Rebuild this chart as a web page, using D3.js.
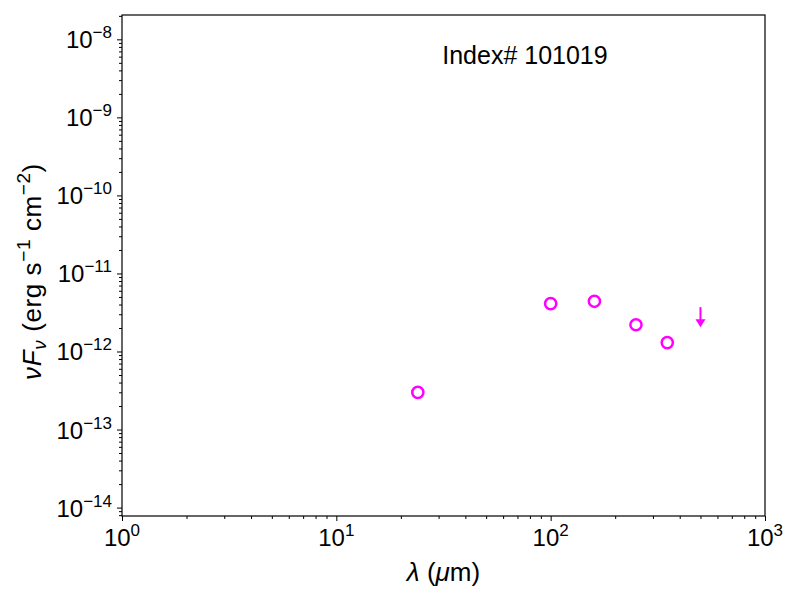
<!DOCTYPE html>
<html>
<head>
<meta charset="utf-8">
<script src="https://cdn.jsdelivr.net/npm/d3@7"></script>
<style>
  body { margin: 0; background: #fff; }
  text { font-family: "Liberation Sans", Arial, sans-serif; }
</style>
</head>
<body>
<div id="sed"></div>
<script>
// photometry points (wavelength in micron, nuFnu in erg s^-1 cm^-2)
const wavelengths = [24, 100, 160, 250, 350];
const fluxes = [3.0e-13, 4.1e-12, 4.4e-12, 2.2e-12, 1.3e-12];
// upper limits
const limitWavelengths = [500];
const limitFluxes = [3.7e-12];

const xLim = [1, 1000];
const yLim = [7.8e-15, 2.05e-8];
const xMajor = [0, 1, 2, 3];
const yMajor = [-14, -13, -12, -11, -10, -9, -8];
const title = "Index# 101019";

const margin = {top: 15, right: 35, bottom: 84, left: 122},
width = 800 - margin.left - margin.right,
height = 600 - margin.top - margin.bottom;

const svg = d3.select("#sed")
.append("svg")
.attr("width", 800)
.attr("height", 600)
.append("g")
.attr("transform", `translate(${margin.left}, ${margin.top})`);

const x = d3.scaleLog().domain(xLim).range([0, width]);
const y = d3.scaleLog().domain(yLim).range([height, 0]);

// minor ticks 2..9 of each decade, kept inside the limits
function minorTicks(lo, hi) {
  const out = [];
  for (let e = Math.floor(Math.log10(lo)); e <= Math.ceil(Math.log10(hi)); e++) {
    for (let m = 2; m <= 9; m++) {
      const v = m * Math.pow(10, e);
      if (v >= lo && v <= hi) out.push(v);
    }
  }
  return out;
}

const sup = n => String(n).replace("-", "\u2212");

// x axis
svg.append("g")
.attr("transform", `translate(0, ${height})`)
.call(d3.axisBottom(x).tickValues(xMajor.map(e => Math.pow(10, e))).tickSize(5).tickFormat(""))
.call(g => g.select(".domain").remove());
svg.append("g")
.attr("transform", `translate(0, ${height})`)
.call(d3.axisBottom(x).tickValues(minorTicks(xLim[0], xLim[1])).tickSize(3).tickFormat(""))
.call(g => g.select(".domain").remove());

xMajor.forEach(function(e) {
  const t = svg.append("text")
  .attr("x", x(Math.pow(10, e)))
  .attr("y", height + 30)
  .attr("text-anchor", "middle")
  .attr("font-size", "24px");
  t.append("tspan").text("10");
  t.append("tspan").attr("dy", -10).attr("font-size", "17px").text(sup(e));
});

// y axis
svg.append("g")
.call(d3.axisLeft(y).tickValues(yMajor.map(e => Math.pow(10, e))).tickSize(5).tickFormat(""))
.call(g => g.select(".domain").remove());
svg.append("g")
.call(d3.axisLeft(y).tickValues(minorTicks(yLim[0], yLim[1])).tickSize(3).tickFormat(""))
.call(g => g.select(".domain").remove());

yMajor.forEach(function(e) {
  const t = svg.append("text")
  .attr("x", -10)
  .attr("y", y(Math.pow(10, e)) + 9)
  .attr("text-anchor", "end")
  .attr("font-size", "24px");
  t.append("tspan").text("10");
  t.append("tspan").attr("dy", -10).attr("font-size", "17px").text(sup(e));
});

svg.selectAll(".tick line").attr("stroke", "#000").attr("stroke-width", 1);

// frame
svg.append("rect")
.attr("width", width)
.attr("height", height)
.attr("fill", "none")
.attr("stroke", "#000")
.attr("stroke-width", 1.2);

// axis labels
const xl = svg.append("text")
.attr("x", width / 2)
.attr("y", height + 65)
.attr("text-anchor", "middle")
.attr("font-size", "26px");
xl.append("tspan").attr("font-style", "italic").text("\u03bb");
xl.append("tspan").text(" (");
xl.append("tspan").attr("font-style", "italic").text("\u03bc");
xl.append("tspan").text("m)");

const yl = svg.append("text")
.attr("transform", `translate(-81, ${height / 2 + 6}) rotate(-90)`)
.attr("text-anchor", "middle")
.attr("font-size", "26px")
.attr("letter-spacing", "0.6px");
yl.append("tspan").attr("font-style", "italic").text("\u03bdF");
yl.append("tspan").attr("font-style", "italic").attr("font-size", "19px").attr("dy", 5).text("\u03bd");
yl.append("tspan").attr("dy", -5).text(" (erg s");
yl.append("tspan").attr("font-size", "19px").attr("dy", -11).text("\u22121");
yl.append("tspan").attr("dy", 11).text(" cm");
yl.append("tspan").attr("font-size", "19px").attr("dy", -11).text("\u22122");
yl.append("tspan").attr("dy", 11).text(")");

// title inside the axes
svg.append("text")
.attr("x", x(Math.pow(10, 1.88)))
.attr("y", 49)
.attr("text-anchor", "middle")
.attr("font-size", "25px")
.text(title);

// detections
svg.selectAll("circle.det")
.data(wavelengths.map((w, i) => ({w: w, f: fluxes[i]})))
.join("circle")
.attr("class", "det")
.attr("cx", d => x(d.w))
.attr("cy", d => y(d.f))
.attr("r", 5.6)
.attr("fill", "none")
.attr("stroke", "#ff00ff")
.attr("stroke-width", 2.5);

// upper limits as downward arrows
const lim = svg.selectAll("g.lim")
.data(limitWavelengths.map((w, i) => ({w: w, f: limitFluxes[i]})))
.join("g")
.attr("class", "lim")
.attr("transform", d => `translate(${x(d.w)}, ${y(d.f)})`);
lim.append("line")
.attr("y1", 0).attr("y2", 13)
.attr("stroke", "#ff00ff")
.attr("stroke-width", 2);
lim.append("path")
.attr("d", "M-5,12L5,12L0,20Z")
.attr("fill", "#ff00ff");
</script>
</body>
</html>
